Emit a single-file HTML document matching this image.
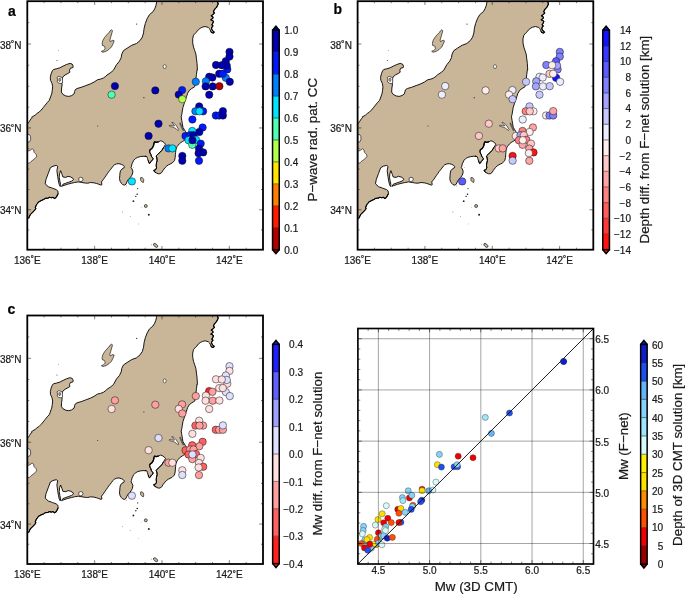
<!DOCTYPE html><html><head><meta charset="utf-8"><style>html,body{margin:0;padding:0;background:#fff}svg{display:block}text{stroke:#1a1a1a;stroke-width:0.22px}</style></head><body>
<div style="will-change:transform;width:685px;height:595px">
<svg width="685" height="595" viewBox="0 0 685 595" font-family="Liberation Sans, sans-serif">
<defs>
<clipPath id="mclip"><rect x="27.30" y="1.20" width="235.70" height="248.50"/></clipPath>
<g id="map"><g clip-path="url(#mclip)">
<polygon points="25.00,123.50 28.00,123.50 29.50,121.20 31.10,118.70 32.20,117.60 31.60,117.20 32.60,116.60 35.10,115.20 37.10,113.40 39.10,112.10 41.10,110.10 43.20,107.60 45.20,105.10 47.20,102.60 49.20,100.50 50.20,98.00 51.20,95.00 51.71,93.82 52.29,90.29 52.65,86.76 51.94,83.24 50.53,80.29 50.29,77.35 51.12,73.82 52.29,70.88 53.40,69.50 56.40,68.80 59.80,67.80 63.10,66.10 66.50,64.50 69.90,63.40 72.20,64.10 73.20,66.10 72.90,67.60 70.50,68.20 69.50,70.20 69.90,72.20 67.90,73.50 65.20,74.90 62.80,76.90 62.10,78.90 61.80,81.60 62.10,85.00 61.60,88.00 61.35,92.06 62.88,94.41 65.82,95.94 68.76,96.41 71.71,95.59 74.06,93.82 74.65,91.47 75.24,89.71 77.00,88.53 81.12,87.35 85.82,85.59 90.53,83.82 94.06,82.06 97.59,79.71 100.53,79.12 103.47,77.94 105.82,76.18 107.00,75.00 110.80,72.50 113.50,70.20 116.47,64.71 119.41,61.18 121.18,57.65 121.76,54.12 123.53,50.59 127.06,48.24 131.76,45.29 136.47,43.53 140.00,40.59 142.35,37.06 143.53,32.94 144.12,28.24 145.29,23.53 147.06,18.82 149.41,14.71 152.94,11.76 154.71,8.82 155.88,5.88 156.47,2.94 156.82,0.00 156.90,-1.10 217.50,-1.00 217.50,1.70 218.20,4.00 217.20,6.00 216.50,7.40 215.20,8.70 214.10,10.10 213.50,11.80 214.50,13.10 213.10,14.40 211.10,15.80 212.80,16.80 213.10,18.10 210.80,19.80 212.50,20.50 213.50,21.50 212.80,23.20 211.80,24.90 213.10,25.90 212.10,26.90 211.50,28.20 211.90,29.60 212.80,30.80 214.30,32.10 213.20,33.10 211.60,32.60 210.60,31.20 210.20,29.80 209.50,28.60 208.40,27.50 205.10,26.50 202.40,27.20 200.40,28.20 198.40,29.60 197.00,31.60 195.30,33.20 193.50,35.30 192.70,38.80 192.71,42.94 193.53,47.06 194.71,50.59 195.88,54.12 196.47,58.82 197.06,63.53 197.41,70.00 197.06,69.71 196.47,74.41 195.88,79.12 195.65,82.65 194.71,86.76 191.76,88.53 189.41,90.29 187.65,93.24 186.47,96.76 185.29,100.29 184.12,103.82 182.94,107.35 182.35,110.88 181.76,114.41 181.18,116.76 181.76,120.29 182.35,123.82 182.94,127.35 184.30,129.50 185.50,131.50 187.00,134.00 189.50,136.50 188.00,138.50 184.60,140.30 182.50,141.50 180.80,142.60 179.30,143.80 178.20,145.20 177.20,146.50 176.60,147.60 176.10,149.00 175.80,150.30 175.60,152.40 175.40,154.70 175.17,157.69 174.42,160.72 172.15,162.99 170.00,164.12 168.63,164.74 166.77,165.99 164.90,167.85 163.03,170.34 161.79,172.51 159.93,173.76 158.06,173.76 156.19,172.83 154.33,171.58 153.71,170.34 155.57,169.72 156.50,167.85 156.19,165.36 156.50,162.88 157.13,160.39 156.82,157.90 156.19,156.03 157.44,154.79 159.30,152.93 161.79,150.44 163.66,147.33 165.52,144.22 164.28,142.66 162.41,141.42 160.55,140.80 158.68,141.73 156.19,142.35 154.64,141.73 154.02,142.98 153.71,144.84 153.08,146.71 151.84,148.57 150.29,149.50 149.66,151.06 149.98,152.93 150.91,154.48 151.22,156.03 152.15,157.28 153.08,158.52 152.77,159.77 151.84,160.39 150.91,161.63 150.29,162.88 149.35,163.50 148.73,162.25 148.11,160.39 147.49,158.52 146.87,156.66 145.00,156.03 145.83,156.47 143.06,156.28 140.29,156.65 137.51,157.39 135.20,158.78 133.82,160.17 132.89,162.01 131.97,163.86 131.51,166.17 131.04,167.56 131.97,168.95 132.89,171.26 132.43,174.03 131.51,175.88 130.12,177.73 128.27,179.57 126.89,181.89 125.96,184.20 124.57,185.12 122.73,184.66 121.34,183.27 120.14,181.42 119.49,178.65 119.77,175.88 119.95,173.11 120.51,170.79 121.99,168.95 123.84,168.02 124.39,166.64 123.19,165.25 121.34,164.33 119.03,163.68 116.72,163.86 114.41,164.79 113.02,166.17 111.64,168.02 110.25,169.87 108.68,171.72 107.48,173.57 106.18,175.42 104.89,177.26 103.32,179.57 101.47,181.89 101.93,184.66 101.01,185.12 98.70,184.20 96.39,183.46 94.30,182.90 90.70,182.50 87.70,183.20 85.50,183.10 81.90,182.50 78.20,181.90 74.60,182.50 71.70,183.20 67.30,184.30 62.90,185.80 61.50,186.40 62.90,184.30 65.80,183.20 68.80,182.20 71.70,181.10 73.50,179.60 73.10,178.50 70.90,177.00 68.00,176.30 65.80,177.40 62.90,177.00 62.00,174.30 60.60,170.70 59.60,173.60 59.20,177.20 59.80,180.90 60.60,184.50 60.20,186.50 59.30,184.80 58.40,180.90 57.70,176.50 56.90,170.70 57.70,166.30 56.20,165.40 53.00,166.20 50.40,167.70 48.20,173.60 46.00,179.40 45.20,183.80 48.20,186.70 52.50,188.20 56.20,189.60 57.80,190.90 58.20,193.40 57.00,195.90 55.80,197.80 54.50,198.50 53.00,197.30 51.50,197.80 49.50,197.30 47.80,198.20 45.50,198.30 43.50,199.60 41.80,200.30 40.00,201.20 38.50,202.00 37.50,203.50 36.60,204.50 35.90,206.00 35.30,207.40 35.80,208.40 35.20,209.60 34.00,210.90 33.00,212.00 31.50,213.30 30.40,214.50 29.50,216.30 28.60,218.30 27.30,219.50 25.00,219.50" fill="#c9b597" stroke="#000" stroke-width="0.9" stroke-linejoin="round"/>
<polyline points="217.50,-1.00 217.50,1.70 218.20,4.00 217.20,6.00 216.50,7.40 215.20,8.70 214.10,10.10 213.50,11.80 214.50,13.10 213.10,14.40 211.10,15.80 212.80,16.80 213.10,18.10 210.80,19.80 212.50,20.50 213.50,21.50 212.80,23.20 211.80,24.90 213.10,25.90 212.10,26.90 211.50,28.20 211.90,29.60 212.80,30.80 214.30,32.10 213.20,33.10 211.60,32.60 210.60,31.20" fill="none" stroke="#000" stroke-width="1.1" stroke-linejoin="round"/>
<polyline points="58.20,193.40 57.00,195.90 55.80,197.80 54.50,198.50 53.00,197.30 51.50,197.80 49.50,197.30 47.80,198.20 45.50,198.30 43.50,199.60 41.80,200.30 40.00,201.20 38.50,202.00 37.50,203.50 36.60,204.50 35.90,206.00 35.30,207.40 35.80,208.40 35.20,209.60 34.00,210.90 33.00,212.00 31.50,213.30 30.40,214.50 29.50,216.30 28.60,218.30" fill="none" stroke="#000" stroke-width="1.1" stroke-linejoin="round"/>
<polyline points="158.68,141.73 156.19,142.35 154.64,141.73 154.02,142.98 153.71,144.84 153.08,146.71 151.84,148.57 150.29,149.50 149.66,151.06" fill="none" stroke="#000" stroke-width="1.4" stroke-linejoin="round"/>
<polyline points="149.66,151.06 149.98,152.93 150.91,154.48 151.22,156.03 152.15,157.28 153.08,158.52 152.77,159.77 151.84,160.39 150.91,161.63 150.29,162.88 149.35,163.50 148.73,162.25 148.11,160.39" fill="none" stroke="#000" stroke-width="1.0" stroke-linejoin="round"/>
<polyline points="156.19,172.83 154.33,171.58 153.71,170.34 155.57,169.72 156.50,167.85 156.19,165.36 156.50,162.88 157.13,160.39 156.82,157.90 156.19,156.03 157.44,154.79 159.30,152.93 161.79,150.44 163.66,147.33" fill="none" stroke="#000" stroke-width="1.0" stroke-linejoin="round"/>
<polygon points="111.50,29.70 112.50,30.80 111.80,33.40 110.80,36.80 109.80,40.20 110.20,41.50 112.90,40.20 114.20,40.80 113.20,43.50 111.50,46.90 108.80,49.60 106.10,51.30 102.80,52.30 101.40,51.30 103.40,50.60 105.10,48.90 104.80,46.90 104.10,45.90 102.40,45.50 102.10,43.20 102.80,40.50 104.50,37.50 106.80,34.80 108.80,32.80 110.20,30.80" fill="#c9b597" stroke="#000" stroke-width="0.6"/>
<polygon points="140.60,177.60 142.40,177.60 143.80,179.70 143.50,182.40 142.10,182.10 140.60,180.30" fill="#c9b597" stroke="#000" stroke-width="0.6"/>
<polygon points="27.56,134.20 29.58,134.71 30.59,136.72 30.59,139.75 29.58,141.76 27.56,142.27" fill="#fff" stroke="#000" stroke-width="0.6"/>
<polygon points="27.56,151.34 30.08,150.33 32.10,148.82 33.61,149.83 34.12,152.35 36.13,154.37 36.64,156.38 35.13,158.40 33.11,159.91 31.09,161.43 29.58,162.94 27.56,163.44" fill="#fff" stroke="#000" stroke-width="0.6"/>
<ellipse cx="164.7" cy="66.6" rx="1.5" ry="2" fill="#fff" stroke="#000" stroke-width="0.5"/>
<ellipse cx="155.6" cy="245.4" rx="2.5" ry="1.4" transform="rotate(40 155.6 245.4)" fill="#c9b597" stroke="#000" stroke-width="0.6"/>
<ellipse cx="145.8" cy="206" rx="1.5" ry="1.5" fill="#c9b597" stroke="#000" stroke-width="0.6"/>
<circle cx="137.7" cy="188.6" r="0.6" fill="#222"/>
<circle cx="137.2" cy="194.2" r="0.8" fill="#222"/>
<circle cx="135.8" cy="196.4" r="0.7" fill="#222"/>
<circle cx="133.4" cy="201.2" r="0.9" fill="#222"/>
<circle cx="148.8" cy="214.8" r="1.0" fill="#222"/>
<circle cx="122.6" cy="212.0" r="0.4" fill="#222"/>
<circle cx="130.2" cy="216.3" r="0.4" fill="#222"/>
<circle cx="141.3" cy="207.7" r="0.3" fill="#222"/>
<circle cx="138.5" cy="223.9" r="0.3" fill="#222"/>
<circle cx="151.5" cy="244.8" r="0.4" fill="#222"/>
<circle cx="136.7" cy="24.1" r="0.6" fill="#222"/>
<circle cx="57.0" cy="60.6" r="0.5" fill="#222"/>
<circle cx="58.4" cy="50.3" r="0.4" fill="#222"/>
<circle cx="97.7" cy="126.1" r="0.5" fill="#222"/>
<circle cx="143.9" cy="97.7" r="0.6" fill="#222"/>
<circle cx="133.8" cy="167.4" r="0.3" fill="#222"/>
<circle cx="126.2" cy="185.9" r="0.4" fill="#222"/>
<polygon points="57,77.5 58.8,76.3 60.5,77 62.5,77.8 62.3,80 62.6,82.5 61,83.6 59,83.2 57.2,81.8 57.6,79.8" fill="#fff" stroke="#000" stroke-width="0.6"/>
<polygon points="58.8,78.5 60.2,78.2 60.8,79.8 60,81.5 58.9,80.8" fill="#c9b597" stroke="#000" stroke-width="0.5"/>
<polygon points="172,122.2 174,123.2 175.8,125 177.2,127 178.8,129.8 178.2,130.5 176.5,129.2 175,128 173,127.2 170.5,126.6 169,125.8 169.5,125.2 172,125.7 174.2,126 174.5,125.2 173,124 171.8,123" fill="#fff" stroke="#111" stroke-width="0.6"/>
<polygon points="180.2,122.8 181,124.5 182.3,127.5 183.6,130.5 183,130.6 181.6,127.8 180.4,125 179.8,123" fill="#ddd" stroke="#111" stroke-width="0.6"/>
<polygon points="78.8,178.2 80.5,177.3 82.5,177.8 83,179.5 82,181.3 80,181.6 78.8,180.5" fill="#fff" stroke="#000" stroke-width="0.6"/>
</g></g>
</defs>
<use href="#map" transform="translate(0.00,0.00)"/>
<g stroke="#111" stroke-width="0.5">
<circle cx="229.50" cy="51.90" r="3.70" fill="#0000b2"/>
<circle cx="229.50" cy="56.60" r="3.70" fill="#0000b2"/>
<circle cx="225.80" cy="61.20" r="3.70" fill="#0000b2"/>
<circle cx="216.00" cy="65.00" r="3.70" fill="#0000b2"/>
<circle cx="227.30" cy="69.40" r="3.70" fill="#001aff"/>
<circle cx="226.80" cy="65.70" r="3.70" fill="#0000b2"/>
<circle cx="221.80" cy="65.20" r="3.70" fill="#0000b2"/>
<circle cx="219.20" cy="73.80" r="3.70" fill="#0000b2"/>
<circle cx="225.80" cy="77.80" r="3.70" fill="#0080ff"/>
<circle cx="222.80" cy="73.80" r="3.70" fill="#001aff"/>
<circle cx="209.20" cy="76.80" r="3.70" fill="#0000b2"/>
<circle cx="212.40" cy="77.50" r="3.70" fill="#0000b2"/>
<circle cx="229.80" cy="81.80" r="3.70" fill="#0000b2"/>
<circle cx="205.90" cy="81.30" r="3.70" fill="#0080ff"/>
<circle cx="195.80" cy="81.80" r="3.70" fill="#0080ff"/>
<circle cx="205.60" cy="86.40" r="3.70" fill="#0000b2"/>
<circle cx="212.70" cy="86.40" r="3.70" fill="#0000b2"/>
<circle cx="219.40" cy="86.20" r="3.70" fill="#b30000"/>
<circle cx="209.20" cy="94.70" r="3.70" fill="#0000b2"/>
<circle cx="114.90" cy="86.10" r="3.70" fill="#0000b2"/>
<circle cx="111.60" cy="94.70" r="3.70" fill="#4dffb2"/>
<circle cx="155.30" cy="90.40" r="3.70" fill="#0000b2"/>
<circle cx="158.50" cy="123.70" r="3.70" fill="#0000b2"/>
<circle cx="182.10" cy="90.10" r="3.70" fill="#001aff"/>
<circle cx="178.70" cy="94.60" r="3.70" fill="#0000b2"/>
<circle cx="182.30" cy="99.20" r="3.70" fill="#b3ff4c"/>
<circle cx="199.20" cy="106.40" r="3.70" fill="#0000b2"/>
<circle cx="195.40" cy="111.30" r="3.70" fill="#0080ff"/>
<circle cx="203.10" cy="111.30" r="3.70" fill="#001aff"/>
<circle cx="199.50" cy="111.30" r="3.70" fill="#00e5ff"/>
<circle cx="192.40" cy="119.50" r="3.70" fill="#001aff"/>
<circle cx="202.60" cy="127.50" r="3.70" fill="#001aff"/>
<circle cx="199.30" cy="132.00" r="3.70" fill="#0000b2"/>
<circle cx="192.20" cy="131.00" r="3.70" fill="#00e5ff"/>
<circle cx="148.60" cy="135.90" r="3.70" fill="#0000b2"/>
<circle cx="185.50" cy="136.00" r="3.70" fill="#001aff"/>
<circle cx="190.20" cy="135.20" r="3.70" fill="#001aff"/>
<circle cx="193.50" cy="135.20" r="3.70" fill="#0000b2"/>
<circle cx="188.50" cy="140.20" r="3.70" fill="#00e5ff"/>
<circle cx="196.00" cy="139.80" r="3.70" fill="#00e5ff"/>
<circle cx="192.30" cy="144.80" r="3.70" fill="#4dffb2"/>
<circle cx="200.70" cy="143.60" r="3.70" fill="#001aff"/>
<circle cx="192.50" cy="140.20" r="3.70" fill="#0000b2"/>
<circle cx="199.00" cy="148.60" r="3.70" fill="#0000b2"/>
<circle cx="203.20" cy="152.40" r="3.70" fill="#0000b2"/>
<circle cx="198.60" cy="153.20" r="3.70" fill="#0000b2"/>
<circle cx="182.30" cy="156.00" r="3.70" fill="#0000b2"/>
<circle cx="182.30" cy="160.70" r="3.70" fill="#0000b2"/>
<circle cx="199.00" cy="160.80" r="3.70" fill="#001aff"/>
<circle cx="168.50" cy="148.40" r="3.70" fill="#0080ff"/>
<circle cx="172.40" cy="148.40" r="3.70" fill="#00e5ff"/>
<circle cx="215.80" cy="115.50" r="3.70" fill="#001aff"/>
<circle cx="219.20" cy="115.50" r="3.70" fill="#001aff"/>
<circle cx="222.90" cy="115.50" r="3.70" fill="#0000b2"/>
<circle cx="222.90" cy="111.10" r="3.70" fill="#0000b2"/>
<circle cx="131.90" cy="181.40" r="3.70" fill="#00e5ff"/>
</g>
<path d="M44.14 1.20v2.00M44.14 249.70v-2.00M60.97 1.20v2.00M60.97 249.70v-2.00M77.81 1.20v2.00M77.81 249.70v-2.00M94.64 1.20v3.80M94.64 249.70v-3.80M111.48 1.20v2.00M111.48 249.70v-2.00M128.31 1.20v2.00M128.31 249.70v-2.00M145.15 1.20v2.00M145.15 249.70v-2.00M161.98 1.20v3.80M161.98 249.70v-3.80M178.82 1.20v2.00M178.82 249.70v-2.00M195.65 1.20v2.00M195.65 249.70v-2.00M212.49 1.20v2.00M212.49 249.70v-2.00M229.32 1.20v3.80M229.32 249.70v-3.80M246.16 1.20v2.00M246.16 249.70v-2.00M262.99 1.20v2.00M262.99 249.70v-2.00M27.30 229.91h2.00M263.00 229.91h-2.00M27.30 209.76h3.80M263.00 209.76h-3.80M27.30 189.49h2.00M263.00 189.49h-2.00M27.30 169.10h2.00M263.00 169.10h-2.00M27.30 148.58h2.00M263.00 148.58h-2.00M27.30 127.94h3.80M263.00 127.94h-3.80M27.30 107.17h2.00M263.00 107.17h-2.00M27.30 86.26h2.00M263.00 86.26h-2.00M27.30 65.21h2.00M263.00 65.21h-2.00M27.30 44.02h3.80M263.00 44.02h-3.80M27.30 22.68h2.00M263.00 22.68h-2.00" stroke="#000" stroke-width="0.5" fill="none"/>
<rect x="27.30" y="1.20" width="235.70" height="248.50" fill="none" stroke="#000" stroke-width="1.8"/>
<text x="27.30" y="263.60" font-size="10" text-anchor="middle" fill="#1a1a1a">136<tspan dy="0.8">˚</tspan><tspan dy="-0.8">E</tspan></text>
<text x="94.64" y="263.60" font-size="10" text-anchor="middle" fill="#1a1a1a">138<tspan dy="0.8">˚</tspan><tspan dy="-0.8">E</tspan></text>
<text x="161.98" y="263.60" font-size="10" text-anchor="middle" fill="#1a1a1a">140<tspan dy="0.8">˚</tspan><tspan dy="-0.8">E</tspan></text>
<text x="229.32" y="263.60" font-size="10" text-anchor="middle" fill="#1a1a1a">142<tspan dy="0.8">˚</tspan><tspan dy="-0.8">E</tspan></text>
<text x="21.60" y="214.26" font-size="10" text-anchor="end" fill="#1a1a1a">34<tspan dy="0.8">˚</tspan><tspan dy="-0.8">N</tspan></text>
<text x="21.60" y="132.44" font-size="10" text-anchor="end" fill="#1a1a1a">36<tspan dy="0.8">˚</tspan><tspan dy="-0.8">N</tspan></text>
<text x="21.60" y="48.52" font-size="10" text-anchor="end" fill="#1a1a1a">38<tspan dy="0.8">˚</tspan><tspan dy="-0.8">N</tspan></text>
<rect x="272.55" y="227.75" width="6.70" height="22.25" fill="#b30000"/>
<rect x="272.55" y="205.80" width="6.70" height="22.25" fill="#ff1a00"/>
<rect x="272.55" y="183.85" width="6.70" height="22.25" fill="#ff8000"/>
<rect x="272.55" y="161.90" width="6.70" height="22.25" fill="#ffe600"/>
<rect x="272.55" y="139.95" width="6.70" height="22.25" fill="#b2ff4d"/>
<rect x="272.55" y="118.00" width="6.70" height="22.25" fill="#4cffb3"/>
<rect x="272.55" y="96.05" width="6.70" height="22.25" fill="#00e5ff"/>
<rect x="272.55" y="74.10" width="6.70" height="22.25" fill="#007fff"/>
<rect x="272.55" y="52.15" width="6.70" height="22.25" fill="#0019ff"/>
<rect x="272.55" y="30.20" width="6.70" height="22.25" fill="#0000b2"/>
<path d="M273.30 227.75H278.50M273.30 205.80H278.50M273.30 183.85H278.50M273.30 161.90H278.50M273.30 139.95H278.50M273.30 118.00H278.50M273.30 96.05H278.50M273.30 74.10H278.50M273.30 52.15H278.50" stroke="#333" stroke-width="0.6" fill="none"/>
<path d="M272.55 30.20L275.90 26.20L279.25 30.20" fill="#0000b2" stroke="#000" stroke-width="1.50" stroke-linejoin="miter"/>
<path d="M272.55 249.70L275.90 253.60L279.25 249.70" fill="#b30000" stroke="#000" stroke-width="1.50" stroke-linejoin="miter"/>
<rect x="272.55" y="30.20" width="6.70" height="219.50" fill="none" stroke="#000" stroke-width="1.50"/>
<text x="284.3" y="253.85" font-size="10" fill="#1a1a1a">0.0</text>
<text x="284.3" y="231.85" font-size="10" fill="#1a1a1a">0.1</text>
<text x="284.3" y="209.85" font-size="10" fill="#1a1a1a">0.2</text>
<text x="284.3" y="187.85" font-size="10" fill="#1a1a1a">0.3</text>
<text x="284.3" y="165.85" font-size="10" fill="#1a1a1a">0.4</text>
<text x="284.3" y="143.85" font-size="10" fill="#1a1a1a">0.5</text>
<text x="284.3" y="121.85" font-size="10" fill="#1a1a1a">0.6</text>
<text x="284.3" y="99.85" font-size="10" fill="#1a1a1a">0.7</text>
<text x="284.3" y="77.85" font-size="10" fill="#1a1a1a">0.8</text>
<text x="284.3" y="55.85" font-size="10" fill="#1a1a1a">0.9</text>
<text x="284.3" y="33.85" font-size="10" fill="#1a1a1a">1.0</text>
<text transform="translate(317.3,139.7) rotate(-90)" font-size="13.35" text-anchor="middle" fill="#1a1a1a">P−wave rad. pat. CC</text>
<text x="8.0" y="16.2" font-size="14" font-weight="bold" fill="#000">a</text>
<use href="#map" transform="translate(330.30,0.00)"/>
<g stroke="#111" stroke-width="0.5">
<circle cx="559.80" cy="51.90" r="3.70" fill="#8080ff"/>
<circle cx="559.80" cy="56.60" r="3.70" fill="#8080ff"/>
<circle cx="556.10" cy="61.20" r="3.70" fill="#5b5bff"/>
<circle cx="546.30" cy="65.00" r="3.70" fill="#8080ff"/>
<circle cx="557.60" cy="69.40" r="3.70" fill="#8080ff"/>
<circle cx="557.10" cy="65.70" r="3.70" fill="#a4a4ff"/>
<circle cx="552.10" cy="65.20" r="3.70" fill="#ffeded"/>
<circle cx="549.50" cy="73.80" r="3.70" fill="#ffc8c8"/>
<circle cx="556.10" cy="77.80" r="3.70" fill="#1212ff"/>
<circle cx="553.10" cy="73.80" r="3.70" fill="#ffeded"/>
<circle cx="539.50" cy="76.80" r="3.70" fill="#ededff"/>
<circle cx="542.70" cy="77.50" r="3.70" fill="#ededff"/>
<circle cx="560.10" cy="81.80" r="3.70" fill="#ededff"/>
<circle cx="536.20" cy="81.30" r="3.70" fill="#a4a4ff"/>
<circle cx="526.10" cy="81.80" r="3.70" fill="#c8c8ff"/>
<circle cx="535.90" cy="86.40" r="3.70" fill="#a4a4ff"/>
<circle cx="543.00" cy="86.40" r="3.70" fill="#ededff"/>
<circle cx="549.70" cy="86.20" r="3.70" fill="#c8c8ff"/>
<circle cx="539.50" cy="94.70" r="3.70" fill="#c8c8ff"/>
<circle cx="445.20" cy="86.10" r="3.70" fill="#ededff"/>
<circle cx="441.90" cy="94.70" r="3.70" fill="#ededff"/>
<circle cx="485.60" cy="90.40" r="3.70" fill="#ffeded"/>
<circle cx="488.80" cy="123.70" r="3.70" fill="#ffc8c8"/>
<circle cx="512.40" cy="90.10" r="3.70" fill="#ededff"/>
<circle cx="509.00" cy="94.60" r="3.70" fill="#ffeded"/>
<circle cx="512.60" cy="99.20" r="3.70" fill="#c8c8ff"/>
<circle cx="529.50" cy="106.40" r="3.70" fill="#c8c8ff"/>
<circle cx="525.70" cy="111.30" r="3.70" fill="#ff8080"/>
<circle cx="533.40" cy="111.30" r="3.70" fill="#ffeded"/>
<circle cx="529.80" cy="111.30" r="3.70" fill="#ffc8c8"/>
<circle cx="522.70" cy="119.50" r="3.70" fill="#ededff"/>
<circle cx="532.90" cy="127.50" r="3.70" fill="#ffa4a4"/>
<circle cx="529.60" cy="132.00" r="3.70" fill="#ffeded"/>
<circle cx="522.50" cy="131.00" r="3.70" fill="#ff8080"/>
<circle cx="478.90" cy="135.90" r="3.70" fill="#ffc8c8"/>
<circle cx="515.80" cy="136.00" r="3.70" fill="#ffeded"/>
<circle cx="520.50" cy="135.20" r="3.70" fill="#a4a4ff"/>
<circle cx="523.80" cy="135.20" r="3.70" fill="#ffc8c8"/>
<circle cx="518.80" cy="140.20" r="3.70" fill="#ff8080"/>
<circle cx="526.30" cy="139.80" r="3.70" fill="#ff8080"/>
<circle cx="522.60" cy="144.80" r="3.70" fill="#ffa4a4"/>
<circle cx="531.00" cy="143.60" r="3.70" fill="#ffc8c8"/>
<circle cx="522.80" cy="140.20" r="3.70" fill="#ffeded"/>
<circle cx="529.30" cy="148.60" r="3.70" fill="#ffa4a4"/>
<circle cx="533.50" cy="152.40" r="3.70" fill="#ff1212"/>
<circle cx="528.90" cy="153.20" r="3.70" fill="#ffeded"/>
<circle cx="512.60" cy="156.00" r="3.70" fill="#ff1212"/>
<circle cx="512.60" cy="160.70" r="3.70" fill="#c8c8ff"/>
<circle cx="529.30" cy="160.80" r="3.70" fill="#ffa4a4"/>
<circle cx="498.80" cy="148.40" r="3.70" fill="#ffc8c8"/>
<circle cx="502.70" cy="148.40" r="3.70" fill="#ffa4a4"/>
<circle cx="546.10" cy="115.50" r="3.70" fill="#ffeded"/>
<circle cx="549.50" cy="115.50" r="3.70" fill="#8080ff"/>
<circle cx="553.20" cy="115.50" r="3.70" fill="#8080ff"/>
<circle cx="553.20" cy="111.10" r="3.70" fill="#ffa4a4"/>
<circle cx="462.20" cy="181.40" r="3.70" fill="#5b5bff"/>
</g>
<path d="M374.44 1.20v2.00M374.44 249.70v-2.00M391.27 1.20v2.00M391.27 249.70v-2.00M408.11 1.20v2.00M408.11 249.70v-2.00M424.94 1.20v3.80M424.94 249.70v-3.80M441.78 1.20v2.00M441.78 249.70v-2.00M458.61 1.20v2.00M458.61 249.70v-2.00M475.45 1.20v2.00M475.45 249.70v-2.00M492.28 1.20v3.80M492.28 249.70v-3.80M509.12 1.20v2.00M509.12 249.70v-2.00M525.95 1.20v2.00M525.95 249.70v-2.00M542.79 1.20v2.00M542.79 249.70v-2.00M559.62 1.20v3.80M559.62 249.70v-3.80M576.46 1.20v2.00M576.46 249.70v-2.00M593.29 1.20v2.00M593.29 249.70v-2.00M357.60 229.91h2.00M593.30 229.91h-2.00M357.60 209.76h3.80M593.30 209.76h-3.80M357.60 189.49h2.00M593.30 189.49h-2.00M357.60 169.10h2.00M593.30 169.10h-2.00M357.60 148.58h2.00M593.30 148.58h-2.00M357.60 127.94h3.80M593.30 127.94h-3.80M357.60 107.17h2.00M593.30 107.17h-2.00M357.60 86.26h2.00M593.30 86.26h-2.00M357.60 65.21h2.00M593.30 65.21h-2.00M357.60 44.02h3.80M593.30 44.02h-3.80M357.60 22.68h2.00M593.30 22.68h-2.00" stroke="#000" stroke-width="0.5" fill="none"/>
<rect x="357.60" y="1.20" width="235.70" height="248.50" fill="none" stroke="#000" stroke-width="1.8"/>
<text x="357.60" y="263.60" font-size="10" text-anchor="middle" fill="#1a1a1a">136<tspan dy="0.8">˚</tspan><tspan dy="-0.8">E</tspan></text>
<text x="424.94" y="263.60" font-size="10" text-anchor="middle" fill="#1a1a1a">138<tspan dy="0.8">˚</tspan><tspan dy="-0.8">E</tspan></text>
<text x="492.28" y="263.60" font-size="10" text-anchor="middle" fill="#1a1a1a">140<tspan dy="0.8">˚</tspan><tspan dy="-0.8">E</tspan></text>
<text x="559.62" y="263.60" font-size="10" text-anchor="middle" fill="#1a1a1a">142<tspan dy="0.8">˚</tspan><tspan dy="-0.8">E</tspan></text>
<text x="351.90" y="214.26" font-size="10" text-anchor="end" fill="#1a1a1a">34<tspan dy="0.8">˚</tspan><tspan dy="-0.8">N</tspan></text>
<text x="351.90" y="132.44" font-size="10" text-anchor="end" fill="#1a1a1a">36<tspan dy="0.8">˚</tspan><tspan dy="-0.8">N</tspan></text>
<text x="351.90" y="48.52" font-size="10" text-anchor="end" fill="#1a1a1a">38<tspan dy="0.8">˚</tspan><tspan dy="-0.8">N</tspan></text>
<rect x="602.75" y="234.02" width="6.70" height="15.98" fill="#ff1212"/>
<rect x="602.75" y="218.34" width="6.70" height="15.98" fill="#ff3737"/>
<rect x="602.75" y="202.66" width="6.70" height="15.98" fill="#ff5b5b"/>
<rect x="602.75" y="186.99" width="6.70" height="15.98" fill="#ff8080"/>
<rect x="602.75" y="171.31" width="6.70" height="15.98" fill="#ffa4a4"/>
<rect x="602.75" y="155.63" width="6.70" height="15.98" fill="#ffc8c8"/>
<rect x="602.75" y="139.95" width="6.70" height="15.98" fill="#ffeded"/>
<rect x="602.75" y="124.27" width="6.70" height="15.98" fill="#ededff"/>
<rect x="602.75" y="108.59" width="6.70" height="15.98" fill="#c8c8ff"/>
<rect x="602.75" y="92.91" width="6.70" height="15.98" fill="#a4a4ff"/>
<rect x="602.75" y="77.24" width="6.70" height="15.98" fill="#8080ff"/>
<rect x="602.75" y="61.56" width="6.70" height="15.98" fill="#5b5bff"/>
<rect x="602.75" y="45.88" width="6.70" height="15.98" fill="#3737ff"/>
<rect x="602.75" y="30.20" width="6.70" height="15.98" fill="#1212ff"/>
<path d="M603.50 234.02H608.70M603.50 218.34H608.70M603.50 202.66H608.70M603.50 186.99H608.70M603.50 171.31H608.70M603.50 155.63H608.70M603.50 139.95H608.70M603.50 124.27H608.70M603.50 108.59H608.70M603.50 92.91H608.70M603.50 77.24H608.70M603.50 61.56H608.70M603.50 45.88H608.70" stroke="#333" stroke-width="0.6" fill="none"/>
<path d="M602.75 30.20L606.10 26.20L609.45 30.20" fill="#1212ff" stroke="#000" stroke-width="1.50" stroke-linejoin="miter"/>
<path d="M602.75 249.70L606.10 253.60L609.45 249.70" fill="#ff1212" stroke="#000" stroke-width="1.50" stroke-linejoin="miter"/>
<rect x="602.75" y="30.20" width="6.70" height="219.50" fill="none" stroke="#000" stroke-width="1.50"/>
<text x="631" y="253.90" font-size="10" text-anchor="end" fill="#1a1a1a">−14</text>
<text x="631" y="238.19" font-size="10" text-anchor="end" fill="#1a1a1a">−12</text>
<text x="631" y="222.47" font-size="10" text-anchor="end" fill="#1a1a1a">−10</text>
<text x="631" y="206.76" font-size="10" text-anchor="end" fill="#1a1a1a">−8</text>
<text x="631" y="191.04" font-size="10" text-anchor="end" fill="#1a1a1a">−6</text>
<text x="631" y="175.33" font-size="10" text-anchor="end" fill="#1a1a1a">−4</text>
<text x="631" y="159.61" font-size="10" text-anchor="end" fill="#1a1a1a">−2</text>
<text x="631" y="143.90" font-size="10" text-anchor="end" fill="#1a1a1a">0</text>
<text x="631" y="128.19" font-size="10" text-anchor="end" fill="#1a1a1a">2</text>
<text x="631" y="112.47" font-size="10" text-anchor="end" fill="#1a1a1a">4</text>
<text x="631" y="96.76" font-size="10" text-anchor="end" fill="#1a1a1a">6</text>
<text x="631" y="81.04" font-size="10" text-anchor="end" fill="#1a1a1a">8</text>
<text x="631" y="65.33" font-size="10" text-anchor="end" fill="#1a1a1a">10</text>
<text x="631" y="49.61" font-size="10" text-anchor="end" fill="#1a1a1a">12</text>
<text x="631" y="33.90" font-size="10" text-anchor="end" fill="#1a1a1a">14</text>
<text transform="translate(649.3,139.6) rotate(-90)" font-size="13.35" text-anchor="middle" fill="#1a1a1a">Depth diff. from F−net solution [km]</text>
<text x="333.6" y="13.8" font-size="14" font-weight="bold" fill="#000">b</text>
<use href="#map" transform="translate(0.00,314.30)"/>
<g stroke="#111" stroke-width="0.5">
<circle cx="229.50" cy="366.20" r="3.70" fill="#dfdfff"/>
<circle cx="229.50" cy="370.90" r="3.70" fill="#ffdfdf"/>
<circle cx="225.80" cy="375.50" r="3.70" fill="#dfdfff"/>
<circle cx="216.00" cy="379.30" r="3.70" fill="#ffdfdf"/>
<circle cx="227.30" cy="383.70" r="3.70" fill="#ffdfdf"/>
<circle cx="226.80" cy="380.00" r="3.70" fill="#dfdfff"/>
<circle cx="221.80" cy="379.50" r="3.70" fill="#ffdfdf"/>
<circle cx="219.20" cy="388.10" r="3.70" fill="#ffdfdf"/>
<circle cx="225.80" cy="392.10" r="3.70" fill="#dfdfff"/>
<circle cx="222.80" cy="388.10" r="3.70" fill="#ffdfdf"/>
<circle cx="209.20" cy="391.10" r="3.70" fill="#ff2020"/>
<circle cx="212.40" cy="391.80" r="3.70" fill="#ff9f9f"/>
<circle cx="229.80" cy="396.10" r="3.70" fill="#dfdfff"/>
<circle cx="205.90" cy="395.60" r="3.70" fill="#ffdfdf"/>
<circle cx="195.80" cy="396.10" r="3.70" fill="#ff9f9f"/>
<circle cx="205.60" cy="400.70" r="3.70" fill="#ffdfdf"/>
<circle cx="212.70" cy="400.70" r="3.70" fill="#ff9f9f"/>
<circle cx="219.40" cy="400.50" r="3.70" fill="#ffdfdf"/>
<circle cx="209.20" cy="409.00" r="3.70" fill="#ffdfdf"/>
<circle cx="114.90" cy="400.40" r="3.70" fill="#ff9f9f"/>
<circle cx="111.60" cy="409.00" r="3.70" fill="#ffdfdf"/>
<circle cx="155.30" cy="404.70" r="3.70" fill="#ff9f9f"/>
<circle cx="158.50" cy="438.00" r="3.70" fill="#dfdfff"/>
<circle cx="182.10" cy="404.40" r="3.70" fill="#ff9f9f"/>
<circle cx="178.70" cy="408.90" r="3.70" fill="#ffdfdf"/>
<circle cx="182.30" cy="413.50" r="3.70" fill="#ff9f9f"/>
<circle cx="199.20" cy="420.70" r="3.70" fill="#ffdfdf"/>
<circle cx="195.40" cy="425.60" r="3.70" fill="#ff6060"/>
<circle cx="203.10" cy="425.60" r="3.70" fill="#ff9f9f"/>
<circle cx="199.50" cy="425.60" r="3.70" fill="#ff9f9f"/>
<circle cx="192.40" cy="433.80" r="3.70" fill="#ffdfdf"/>
<circle cx="202.60" cy="441.80" r="3.70" fill="#ff6060"/>
<circle cx="199.30" cy="446.30" r="3.70" fill="#ff9f9f"/>
<circle cx="192.20" cy="445.30" r="3.70" fill="#ff6060"/>
<circle cx="148.60" cy="450.20" r="3.70" fill="#ffdfdf"/>
<circle cx="185.50" cy="450.30" r="3.70" fill="#ff6060"/>
<circle cx="190.20" cy="449.50" r="3.70" fill="#ff9f9f"/>
<circle cx="193.50" cy="449.50" r="3.70" fill="#ff9f9f"/>
<circle cx="188.50" cy="454.50" r="3.70" fill="#ff6060"/>
<circle cx="196.00" cy="454.10" r="3.70" fill="#ff6060"/>
<circle cx="192.30" cy="459.10" r="3.70" fill="#ff9f9f"/>
<circle cx="200.70" cy="457.90" r="3.70" fill="#ffdfdf"/>
<circle cx="192.50" cy="454.50" r="3.70" fill="#dfdfff"/>
<circle cx="199.00" cy="462.90" r="3.70" fill="#ffdfdf"/>
<circle cx="203.20" cy="466.70" r="3.70" fill="#ff6060"/>
<circle cx="198.60" cy="467.50" r="3.70" fill="#ffdfdf"/>
<circle cx="182.30" cy="470.30" r="3.70" fill="#ffdfdf"/>
<circle cx="182.30" cy="475.00" r="3.70" fill="#dfdfff"/>
<circle cx="199.00" cy="475.10" r="3.70" fill="#ff9f9f"/>
<circle cx="168.50" cy="462.70" r="3.70" fill="#ff9f9f"/>
<circle cx="172.40" cy="462.70" r="3.70" fill="#ffdfdf"/>
<circle cx="215.80" cy="429.80" r="3.70" fill="#ff6060"/>
<circle cx="219.20" cy="429.80" r="3.70" fill="#ff9f9f"/>
<circle cx="222.90" cy="429.80" r="3.70" fill="#ff9f9f"/>
<circle cx="222.90" cy="425.40" r="3.70" fill="#dfdfff"/>
<circle cx="131.90" cy="495.70" r="3.70" fill="#dfdfff"/>
</g>
<path d="M44.14 315.50v2.00M44.14 564.00v-2.00M60.97 315.50v2.00M60.97 564.00v-2.00M77.81 315.50v2.00M77.81 564.00v-2.00M94.64 315.50v3.80M94.64 564.00v-3.80M111.48 315.50v2.00M111.48 564.00v-2.00M128.31 315.50v2.00M128.31 564.00v-2.00M145.15 315.50v2.00M145.15 564.00v-2.00M161.98 315.50v3.80M161.98 564.00v-3.80M178.82 315.50v2.00M178.82 564.00v-2.00M195.65 315.50v2.00M195.65 564.00v-2.00M212.49 315.50v2.00M212.49 564.00v-2.00M229.32 315.50v3.80M229.32 564.00v-3.80M246.16 315.50v2.00M246.16 564.00v-2.00M262.99 315.50v2.00M262.99 564.00v-2.00M27.30 544.21h2.00M263.00 544.21h-2.00M27.30 524.06h3.80M263.00 524.06h-3.80M27.30 503.79h2.00M263.00 503.79h-2.00M27.30 483.40h2.00M263.00 483.40h-2.00M27.30 462.88h2.00M263.00 462.88h-2.00M27.30 442.24h3.80M263.00 442.24h-3.80M27.30 421.47h2.00M263.00 421.47h-2.00M27.30 400.56h2.00M263.00 400.56h-2.00M27.30 379.51h2.00M263.00 379.51h-2.00M27.30 358.32h3.80M263.00 358.32h-3.80M27.30 336.98h2.00M263.00 336.98h-2.00" stroke="#000" stroke-width="0.5" fill="none"/>
<rect x="27.30" y="315.50" width="235.70" height="248.50" fill="none" stroke="#000" stroke-width="1.8"/>
<text x="27.30" y="577.90" font-size="10" text-anchor="middle" fill="#1a1a1a">136<tspan dy="0.8">˚</tspan><tspan dy="-0.8">E</tspan></text>
<text x="94.64" y="577.90" font-size="10" text-anchor="middle" fill="#1a1a1a">138<tspan dy="0.8">˚</tspan><tspan dy="-0.8">E</tspan></text>
<text x="161.98" y="577.90" font-size="10" text-anchor="middle" fill="#1a1a1a">140<tspan dy="0.8">˚</tspan><tspan dy="-0.8">E</tspan></text>
<text x="229.32" y="577.90" font-size="10" text-anchor="middle" fill="#1a1a1a">142<tspan dy="0.8">˚</tspan><tspan dy="-0.8">E</tspan></text>
<text x="21.60" y="528.56" font-size="10" text-anchor="end" fill="#1a1a1a">34<tspan dy="0.8">˚</tspan><tspan dy="-0.8">N</tspan></text>
<text x="21.60" y="446.74" font-size="10" text-anchor="end" fill="#1a1a1a">36<tspan dy="0.8">˚</tspan><tspan dy="-0.8">N</tspan></text>
<text x="21.60" y="362.82" font-size="10" text-anchor="end" fill="#1a1a1a">38<tspan dy="0.8">˚</tspan><tspan dy="-0.8">N</tspan></text>
<rect x="272.65" y="536.20" width="6.60" height="27.70" fill="#ff2020"/>
<rect x="272.65" y="508.80" width="6.60" height="27.70" fill="#ff6060"/>
<rect x="272.65" y="481.40" width="6.60" height="27.70" fill="#ff9f9f"/>
<rect x="272.65" y="454.00" width="6.60" height="27.70" fill="#ffdfdf"/>
<rect x="272.65" y="426.60" width="6.60" height="27.70" fill="#dfdfff"/>
<rect x="272.65" y="399.20" width="6.60" height="27.70" fill="#9f9fff"/>
<rect x="272.65" y="371.80" width="6.60" height="27.70" fill="#6060ff"/>
<rect x="272.65" y="344.40" width="6.60" height="27.70" fill="#2020ff"/>
<path d="M273.40 536.20H278.50M273.40 508.80H278.50M273.40 481.40H278.50M273.40 454.00H278.50M273.40 426.60H278.50M273.40 399.20H278.50M273.40 371.80H278.50" stroke="#333" stroke-width="0.6" fill="none"/>
<path d="M272.65 344.40L275.95 340.40L279.25 344.40" fill="#2020ff" stroke="#000" stroke-width="1.50" stroke-linejoin="miter"/>
<path d="M272.65 563.60L275.95 567.50L279.25 563.60" fill="#ff2020" stroke="#000" stroke-width="1.50" stroke-linejoin="miter"/>
<rect x="272.65" y="344.40" width="6.60" height="219.20" fill="none" stroke="#000" stroke-width="1.50"/>
<text x="303" y="567.80" font-size="10" text-anchor="end" fill="#1a1a1a">−0.4</text>
<text x="303" y="540.38" font-size="10" text-anchor="end" fill="#1a1a1a">−0.3</text>
<text x="303" y="512.95" font-size="10" text-anchor="end" fill="#1a1a1a">−0.2</text>
<text x="303" y="485.52" font-size="10" text-anchor="end" fill="#1a1a1a">−0.1</text>
<text x="303" y="458.10" font-size="10" text-anchor="end" fill="#1a1a1a">0.0</text>
<text x="303" y="430.67" font-size="10" text-anchor="end" fill="#1a1a1a">0.1</text>
<text x="303" y="403.25" font-size="10" text-anchor="end" fill="#1a1a1a">0.2</text>
<text x="303" y="375.82" font-size="10" text-anchor="end" fill="#1a1a1a">0.3</text>
<text x="303" y="348.40" font-size="10" text-anchor="end" fill="#1a1a1a">0.4</text>
<text transform="translate(321.8,453.6) rotate(-90)" font-size="13.35" text-anchor="middle" fill="#1a1a1a">Mw diff. from F−net solution</text>
<text x="7.4" y="313.6" font-size="14" font-weight="bold" fill="#000">c</text>
<clipPath id="dclip"><rect x="357.90" y="328.50" width="235.60" height="235.50"/></clipPath>
<g clip-path="url(#dclip)">
<g stroke="#333" stroke-width="0.4">
<circle cx="563.60" cy="361.50" r="3.05" fill="#0f1ec8"/>
<circle cx="509.50" cy="413.00" r="3.05" fill="#1e50f0"/>
<circle cx="485.30" cy="417.40" r="3.05" fill="#a0e6fa"/>
<circle cx="491.40" cy="433.40" r="3.05" fill="#64b4f5"/>
<circle cx="439.40" cy="454.40" r="3.05" fill="#87d2fa"/>
<circle cx="458.20" cy="456.20" r="3.05" fill="#f00000"/>
<circle cx="473.00" cy="457.70" r="3.05" fill="#f00000"/>
<circle cx="437.40" cy="464.70" r="3.05" fill="#ffe100"/>
<circle cx="441.40" cy="467.10" r="3.05" fill="#1e50f0"/>
<circle cx="454.10" cy="466.80" r="3.05" fill="#1e50f0"/>
<circle cx="457.60" cy="466.80" r="3.05" fill="#1e50f0"/>
<circle cx="457.10" cy="464.70" r="3.05" fill="#87d2fa"/>
<circle cx="435.90" cy="482.10" r="3.05" fill="#d7fafa"/>
<circle cx="422.10" cy="489.20" r="3.05" fill="#f00000"/>
<circle cx="422.10" cy="490.60" r="3.05" fill="#ffe100"/>
<circle cx="432.90" cy="490.00" r="3.05" fill="#d7fafa"/>
<circle cx="428.80" cy="490.80" r="3.05" fill="#64b4f5"/>
<circle cx="408.20" cy="490.80" r="3.05" fill="#87d2fa"/>
<circle cx="409.40" cy="497.90" r="3.05" fill="#f00000"/>
<circle cx="411.80" cy="495.30" r="3.05" fill="#87d2fa"/>
<circle cx="402.40" cy="497.60" r="3.05" fill="#87d2fa"/>
<circle cx="402.90" cy="500.60" r="3.05" fill="#a0e6fa"/>
<circle cx="421.80" cy="500.20" r="3.05" fill="#0f1ec8"/>
<circle cx="420.60" cy="501.80" r="3.05" fill="#1e50f0"/>
<circle cx="412.90" cy="505.30" r="3.05" fill="#ff5000"/>
<circle cx="412.40" cy="506.50" r="3.05" fill="#87d2fa"/>
<circle cx="397.80" cy="509.40" r="3.05" fill="#f00000"/>
<circle cx="400.80" cy="508.50" r="3.05" fill="#ffe100"/>
<circle cx="411.20" cy="509.40" r="3.05" fill="#1e50f0"/>
<circle cx="398.90" cy="513.30" r="3.05" fill="#ff5000"/>
<circle cx="405.20" cy="512.30" r="3.05" fill="#87d2fa"/>
<circle cx="382.20" cy="513.80" r="3.05" fill="#ffe100"/>
<circle cx="386.30" cy="505.70" r="3.05" fill="#d7fafa"/>
<circle cx="378.00" cy="519.60" r="3.05" fill="#ffe100"/>
<circle cx="387.80" cy="518.30" r="3.05" fill="#f00000"/>
<circle cx="391.30" cy="522.60" r="3.05" fill="#ff5000"/>
<circle cx="383.70" cy="522.80" r="3.05" fill="#f00000"/>
<circle cx="400.90" cy="522.30" r="3.05" fill="#1e50f0"/>
<circle cx="398.90" cy="522.60" r="3.05" fill="#f00000"/>
<circle cx="375.30" cy="525.10" r="3.05" fill="#d7fafa"/>
<circle cx="385.80" cy="526.70" r="3.05" fill="#87d2fa"/>
<circle cx="384.60" cy="529.30" r="3.05" fill="#d7fafa"/>
<circle cx="363.60" cy="526.40" r="3.05" fill="#87d2fa"/>
<circle cx="363.10" cy="530.50" r="3.05" fill="#87d2fa"/>
<circle cx="362.30" cy="533.80" r="3.05" fill="#d7fafa"/>
<circle cx="378.40" cy="532.80" r="3.05" fill="#f00000"/>
<circle cx="385.40" cy="530.60" r="3.05" fill="#d7fafa"/>
<circle cx="381.20" cy="536.40" r="3.05" fill="#87d2fa"/>
<circle cx="383.60" cy="535.90" r="3.05" fill="#87d2fa"/>
<circle cx="387.20" cy="538.20" r="3.05" fill="#0f1ec8"/>
<circle cx="392.40" cy="537.40" r="3.05" fill="#ff5000"/>
<circle cx="364.80" cy="540.00" r="3.05" fill="#87d2fa"/>
<circle cx="369.60" cy="537.50" r="3.05" fill="#ffe100"/>
<circle cx="367.00" cy="539.60" r="3.05" fill="#ffe100"/>
<circle cx="377.20" cy="539.40" r="3.05" fill="#ff5000"/>
<circle cx="361.60" cy="543.50" r="3.05" fill="#ff5000"/>
<circle cx="376.00" cy="544.70" r="3.05" fill="#ff8c00"/>
<circle cx="369.80" cy="544.40" r="3.05" fill="#f00000"/>
<circle cx="373.60" cy="544.20" r="3.05" fill="#fff000"/>
<circle cx="378.60" cy="543.00" r="3.05" fill="#87d2fa"/>
<circle cx="381.90" cy="544.70" r="3.05" fill="#d7fafa"/>
<circle cx="365.70" cy="545.90" r="3.05" fill="#87d2fa"/>
<circle cx="364.50" cy="547.90" r="3.05" fill="#f00000"/>
<circle cx="371.30" cy="548.20" r="3.05" fill="#87d2fa"/>
<circle cx="367.80" cy="550.30" r="3.05" fill="#1e50f0"/>
</g>
<path d="M378.39 328.50V564.00M357.90 543.52H593.50M429.60 328.50V564.00M357.90 492.33H593.50M480.82 328.50V564.00M357.90 441.13H593.50M532.04 328.50V564.00M357.90 389.93H593.50M583.26 328.50V564.00M357.90 338.74H593.50" stroke="#000" stroke-opacity="0.4" stroke-width="0.9" fill="none"/>
<path d="M357.90 564.00L593.50 328.50" stroke="#111" stroke-width="0.95"/>
<circle cx="563.60" cy="361.50" r="3.05" fill="#0f1ec8" stroke="#333" stroke-width="0.4"/>
<circle cx="369.80" cy="544.40" r="3.05" fill="#f00000" stroke="#333" stroke-width="0.4"/>
</g>
<path d="M357.90 564.00v-2.40M357.90 328.50v2.40M357.90 564.00h2.40M593.50 564.00h-2.40M368.14 564.00v-2.40M368.14 328.50v2.40M357.90 553.76h2.40M593.50 553.76h-2.40M378.39 564.00v-3.90M378.39 328.50v3.90M357.90 543.52h3.90M593.50 543.52h-3.90M388.63 564.00v-2.40M388.63 328.50v2.40M357.90 533.28h2.40M593.50 533.28h-2.40M398.87 564.00v-2.40M398.87 328.50v2.40M357.90 523.04h2.40M593.50 523.04h-2.40M409.12 564.00v-2.40M409.12 328.50v2.40M357.90 512.80h2.40M593.50 512.80h-2.40M419.36 564.00v-2.40M419.36 328.50v2.40M357.90 502.57h2.40M593.50 502.57h-2.40M429.60 564.00v-3.90M429.60 328.50v3.90M357.90 492.33h3.90M593.50 492.33h-3.90M439.85 564.00v-2.40M439.85 328.50v2.40M357.90 482.09h2.40M593.50 482.09h-2.40M450.09 564.00v-2.40M450.09 328.50v2.40M357.90 471.85h2.40M593.50 471.85h-2.40M460.33 564.00v-2.40M460.33 328.50v2.40M357.90 461.61h2.40M593.50 461.61h-2.40M470.58 564.00v-2.40M470.58 328.50v2.40M357.90 451.37h2.40M593.50 451.37h-2.40M480.82 564.00v-3.90M480.82 328.50v3.90M357.90 441.13h3.90M593.50 441.13h-3.90M491.07 564.00v-2.40M491.07 328.50v2.40M357.90 430.89h2.40M593.50 430.89h-2.40M501.31 564.00v-2.40M501.31 328.50v2.40M357.90 420.65h2.40M593.50 420.65h-2.40M511.55 564.00v-2.40M511.55 328.50v2.40M357.90 410.41h2.40M593.50 410.41h-2.40M521.80 564.00v-2.40M521.80 328.50v2.40M357.90 400.17h2.40M593.50 400.17h-2.40M532.04 564.00v-3.90M532.04 328.50v3.90M357.90 389.93h3.90M593.50 389.93h-3.90M542.28 564.00v-2.40M542.28 328.50v2.40M357.90 379.70h2.40M593.50 379.70h-2.40M552.53 564.00v-2.40M552.53 328.50v2.40M357.90 369.46h2.40M593.50 369.46h-2.40M562.77 564.00v-2.40M562.77 328.50v2.40M357.90 359.22h2.40M593.50 359.22h-2.40M573.01 564.00v-2.40M573.01 328.50v2.40M357.90 348.98h2.40M593.50 348.98h-2.40M583.26 564.00v-3.90M583.26 328.50v3.90M357.90 338.74h3.90M593.50 338.74h-3.90M593.50 564.00v-2.40M593.50 328.50v2.40M357.90 328.50h2.40M593.50 328.50h-2.40" stroke="#000" stroke-width="0.5" fill="none"/>
<rect x="357.90" y="328.50" width="235.60" height="235.50" fill="none" stroke="#000" stroke-width="1.65"/>
<text x="378.39" y="573.8" font-size="10" text-anchor="middle" fill="#1a1a1a">4.5</text>
<text x="595.2" y="548.02" font-size="10" fill="#1a1a1a">4.5</text>
<text x="429.60" y="573.8" font-size="10" text-anchor="middle" fill="#1a1a1a">5.0</text>
<text x="595.2" y="496.83" font-size="10" fill="#1a1a1a">5.0</text>
<text x="480.82" y="573.8" font-size="10" text-anchor="middle" fill="#1a1a1a">5.5</text>
<text x="595.2" y="445.63" font-size="10" fill="#1a1a1a">5.5</text>
<text x="532.04" y="573.8" font-size="10" text-anchor="middle" fill="#1a1a1a">6.0</text>
<text x="595.2" y="394.43" font-size="10" fill="#1a1a1a">6.0</text>
<text x="583.26" y="573.8" font-size="10" text-anchor="middle" fill="#1a1a1a">6.5</text>
<text x="595.2" y="343.24" font-size="10" fill="#1a1a1a">6.5</text>
<text x="476.2" y="590.8" font-size="13.35" text-anchor="middle" fill="#1a1a1a">Mw (3D CMT)</text>
<text transform="translate(627.9,446.2) rotate(-90)" font-size="13.35" text-anchor="middle" fill="#1a1a1a">Mw (F−net)</text>
<rect x="640.65" y="545.79" width="6.50" height="18.61" fill="#960000"/>
<rect x="640.65" y="527.48" width="6.50" height="18.61" fill="#f00000"/>
<rect x="640.65" y="509.18" width="6.50" height="18.61" fill="#ff5000"/>
<rect x="640.65" y="490.87" width="6.50" height="18.61" fill="#ff8c00"/>
<rect x="640.65" y="472.56" width="6.50" height="18.61" fill="#ffe100"/>
<rect x="640.65" y="454.25" width="6.50" height="18.61" fill="#fff000"/>
<rect x="640.65" y="435.94" width="6.50" height="18.61" fill="#d7fafa"/>
<rect x="640.65" y="417.63" width="6.50" height="18.61" fill="#a0e6fa"/>
<rect x="640.65" y="399.32" width="6.50" height="18.61" fill="#87d2fa"/>
<rect x="640.65" y="381.02" width="6.50" height="18.61" fill="#64b4f5"/>
<rect x="640.65" y="362.71" width="6.50" height="18.61" fill="#1e50f0"/>
<rect x="640.65" y="344.40" width="6.50" height="18.61" fill="#0f1ec8"/>
<path d="M641.40 545.79H646.40M641.40 527.48H646.40M641.40 509.18H646.40M641.40 490.87H646.40M641.40 472.56H646.40M641.40 454.25H646.40M641.40 435.94H646.40M641.40 417.63H646.40M641.40 399.32H646.40M641.40 381.02H646.40M641.40 362.71H646.40" stroke="#333" stroke-width="0.6" fill="none"/>
<path d="M640.65 344.40L643.90 340.40L647.15 344.40" fill="#0f1ec8" stroke="#000" stroke-width="1.50" stroke-linejoin="miter"/>
<path d="M640.65 564.10L643.90 568.00L647.15 564.10" fill="#960000" stroke="#000" stroke-width="1.50" stroke-linejoin="miter"/>
<rect x="640.65" y="344.40" width="6.50" height="219.70" fill="none" stroke="#000" stroke-width="1.50"/>
<text x="663.2" y="567.90" font-size="10" text-anchor="end" fill="#1a1a1a">0</text>
<text x="663.2" y="549.62" font-size="10" text-anchor="end" fill="#1a1a1a">5</text>
<text x="663.2" y="531.35" font-size="10" text-anchor="end" fill="#1a1a1a">10</text>
<text x="663.2" y="513.07" font-size="10" text-anchor="end" fill="#1a1a1a">15</text>
<text x="663.2" y="494.80" font-size="10" text-anchor="end" fill="#1a1a1a">20</text>
<text x="663.2" y="476.52" font-size="10" text-anchor="end" fill="#1a1a1a">25</text>
<text x="663.2" y="458.25" font-size="10" text-anchor="end" fill="#1a1a1a">30</text>
<text x="663.2" y="439.97" font-size="10" text-anchor="end" fill="#1a1a1a">35</text>
<text x="663.2" y="421.70" font-size="10" text-anchor="end" fill="#1a1a1a">40</text>
<text x="663.2" y="403.42" font-size="10" text-anchor="end" fill="#1a1a1a">45</text>
<text x="663.2" y="385.15" font-size="10" text-anchor="end" fill="#1a1a1a">50</text>
<text x="663.2" y="366.87" font-size="10" text-anchor="end" fill="#1a1a1a">55</text>
<text x="663.2" y="348.60" font-size="10" text-anchor="end" fill="#1a1a1a">60</text>
<text transform="translate(681.6,454.8) rotate(-90)" font-size="13.35" text-anchor="middle" fill="#1a1a1a">Depth of 3D CMT solution [km]</text>
</svg></div></body></html>
